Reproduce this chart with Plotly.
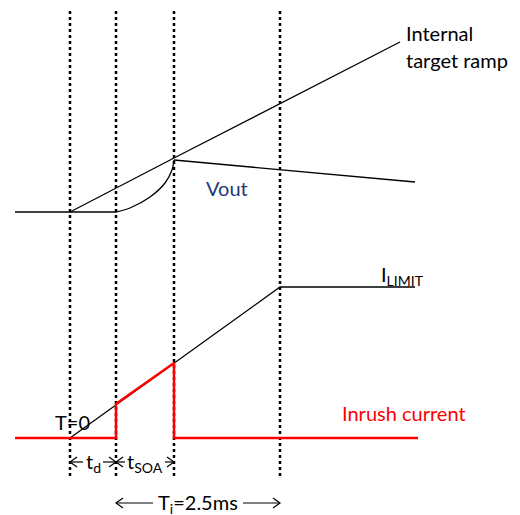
import plotly.graph_objects as go

# event times (x positions in drawing units): T=0, end of td, end of tSOA, end of Ti
t_marks = [70, 116, 174, 280]
mark_top, mark_bottom = 11, 479

# Vout and internal target ramp
vout_x = [15, 70, 116, 130, 150, 165, 172, 174, 415]
vout_y = [212, 212, 212, 208, 197, 183, 170, 160, 182]
ramp_x = [70, 174, 400]
ramp_y = [212, 158, 42]

# current limit ramp (black) and inrush current (red)
ilim_x = [70, 280, 415]
ilim_y = [438, 287, 287]
inrush_x = [15, 116, 116, 174, 174, 418]
inrush_y = [438, 438, 404, 363, 438, 438]

BLACK = '#000000'
RED = '#ff0000'
FONT = 'Lato, Open Sans, sans-serif'
FS = 20

fig = go.Figure()

for t in t_marks:
    fig.add_trace(go.Scatter(x=[t, t], y=[mark_top, mark_bottom], mode='lines',
                             line=dict(color=BLACK, width=2.5, dash='dot'), hoverinfo='skip'))

fig.add_trace(go.Scatter(x=ramp_x, y=ramp_y, mode='lines', line=dict(color=BLACK, width=1.3)))
fig.add_trace(go.Scatter(x=vout_x[:3], y=vout_y[:3], mode='lines', line=dict(color=BLACK, width=1.3)))
fig.add_trace(go.Scatter(x=vout_x[2:8], y=vout_y[2:8], mode='lines', line_shape='spline',
                         line=dict(color=BLACK, width=1.3)))
fig.add_trace(go.Scatter(x=vout_x[7:], y=vout_y[7:], mode='lines', line=dict(color=BLACK, width=1.3)))
fig.add_trace(go.Scatter(x=ilim_x, y=ilim_y, mode='lines', line=dict(color=BLACK, width=1.3)))
fig.add_trace(go.Scatter(x=inrush_x, y=inrush_y, mode='lines', line=dict(color=RED, width=2.5)))


def span_arrow(x0, x1, y, label, gap):
    # double arrow between x0 and x1 with label in the middle
    mid = (x0 + x1) / 2
    for a, b in [(mid - gap, x0), (mid + gap, x1)]:
        fig.add_trace(go.Scatter(x=[a, b], y=[y, y], mode='lines', line=dict(color=BLACK, width=1.2)))
        d = 7 if b > a else -7
        fig.add_trace(go.Scatter(x=[b - d, b, b - d], y=[y - 5, y, y + 5], mode='lines',
                                 line=dict(color=BLACK, width=1.2)))
    fig.add_annotation(x=mid, y=y, text=label, showarrow=False,
                       font=dict(family=FONT, size=FS, color=BLACK))


span_arrow(t_marks[0], t_marks[1], 462, 't<sub>d</sub>', 10)
span_arrow(t_marks[1], t_marks[2], 462, 't<sub>SOA</sub>', 20)
span_arrow(t_marks[1], t_marks[3], 503, 'T<sub>i</sub>=2.5ms', 45)

texts = [
    (404, 33, 'Internal', BLACK, 'left'),
    (404, 60, 'target ramp', BLACK, 'left'),
    (204, 188, 'Vout', '#1f3a78', 'left'),
    (379, 275, 'I<sub>LIMIT</sub>', BLACK, 'left'),
    (72, 422, 'T=0', BLACK, 'center'),
    (340, 413, 'Inrush current', RED, 'left'),
]
for x, y, s, c, al in texts:
    fig.add_annotation(x=x, y=y, text=s, showarrow=False, xanchor=al,
                       font=dict(family=FONT, size=FS, color=c))

fig.update_layout(
    width=520, height=515, margin=dict(l=0, r=0, t=0, b=0),
    plot_bgcolor='white', paper_bgcolor='white', showlegend=False,
    xaxis=dict(range=[0, 520], visible=False, fixedrange=True),
    yaxis=dict(range=[515, 0], visible=False, fixedrange=True),
)

fig.write_html("out.html", config={'displayModeBar': False},
               post_script="document.body.style.margin='0px';")
